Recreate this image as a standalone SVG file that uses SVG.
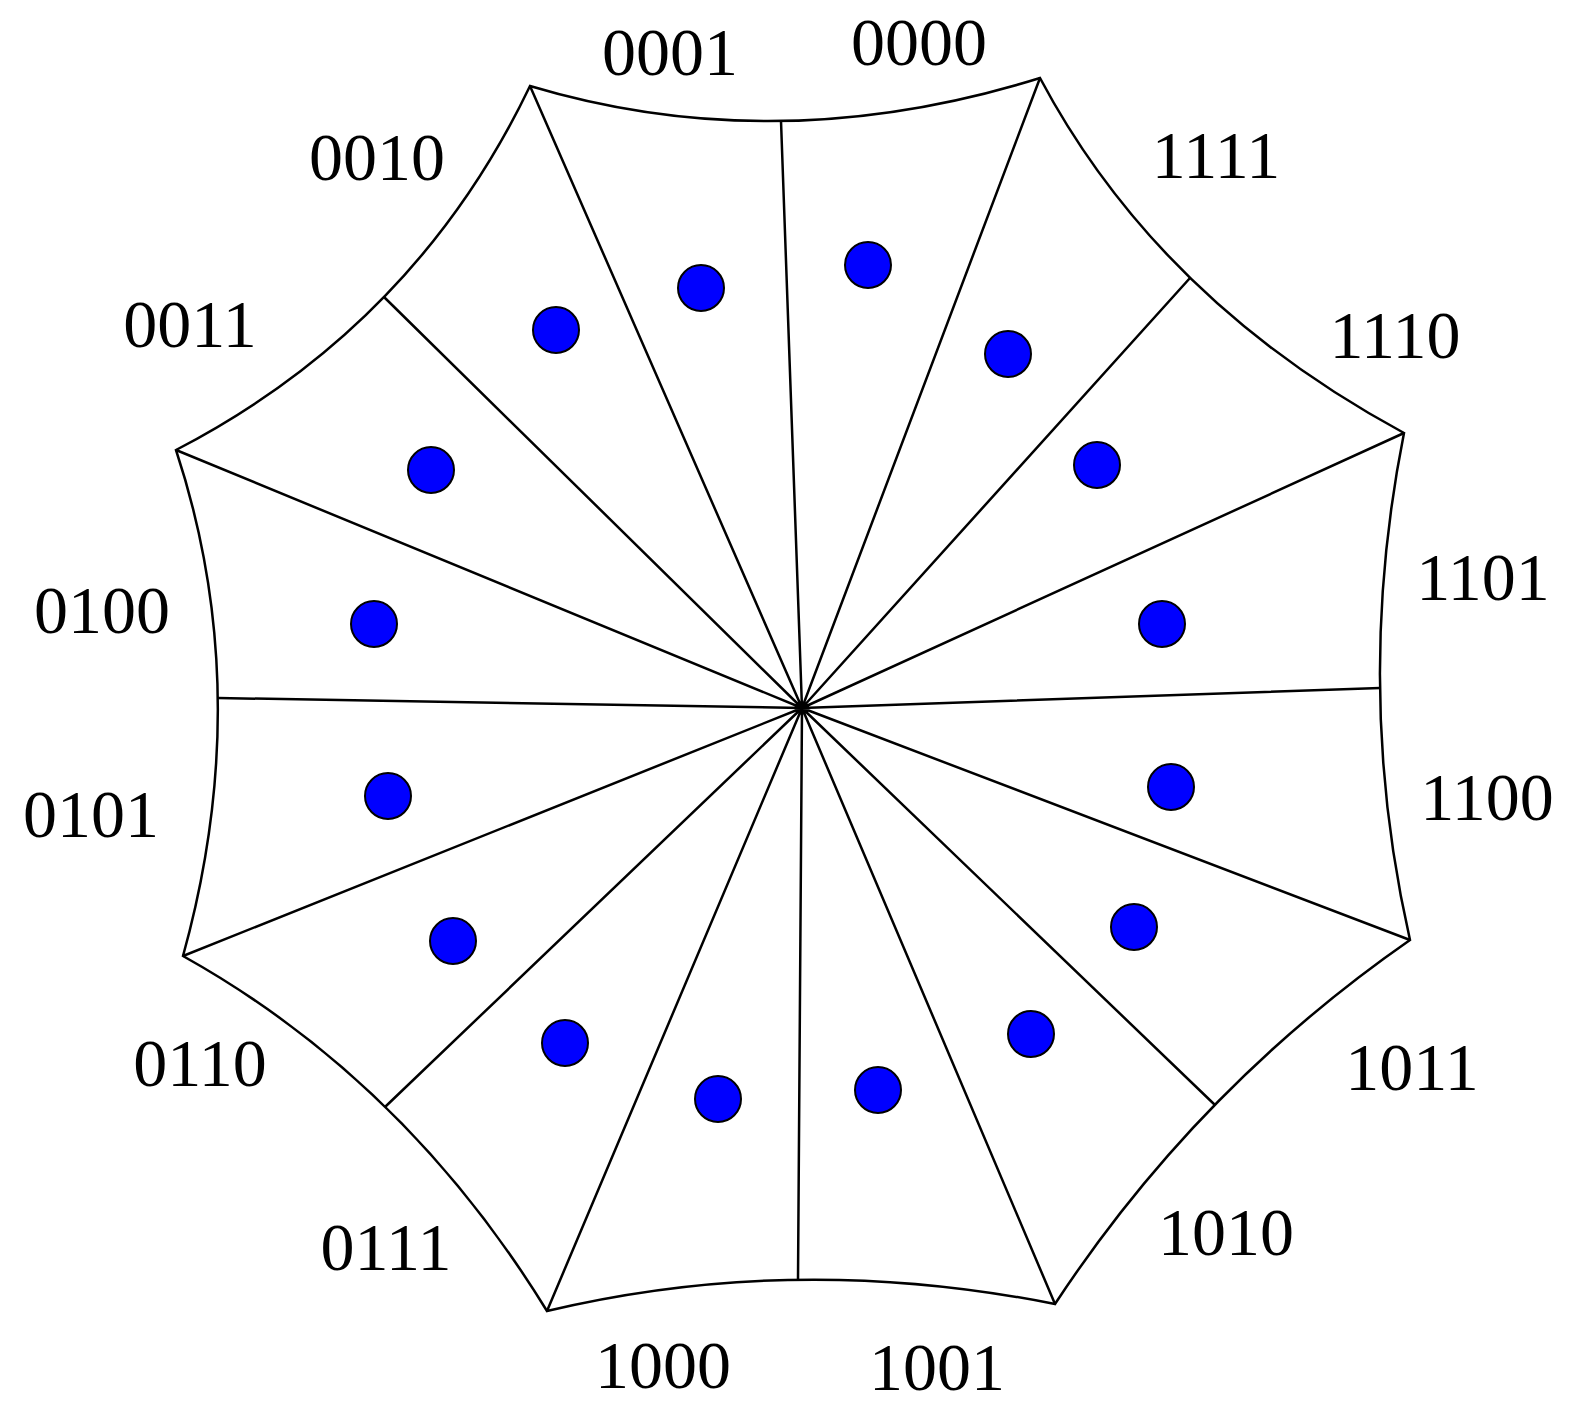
<svg xmlns="http://www.w3.org/2000/svg" width="1573" height="1415" viewBox="0 0 1573 1415">
<style>
.e{fill:none;stroke:#000;stroke-width:2.5}
.d{fill:#0000ff;stroke:#000;stroke-width:2}
.t{font-family:"Liberation Serif",serif;font-size:68px;text-anchor:middle;fill:#000}
</style>
<rect width="1573" height="1415" fill="#fff"/>
<g id="edges">
<path class="e" d="M530,86 Q777,160 1040,78 Q1158,300 1404,433 Q1353,689 1410,940 Q1197,1088 1055,1304 Q795,1252 547,1311 Q405,1080 183,956 Q256,693 176,450 Q415,326 530,86 Z"/>
<path class="e" d="M802,708 L530,86 M802,708 L781,121 M802,708 L1040,78 M802,708 L1190,278 M802,708 L1404,433 M802,708 L1380,688 M802,708 L1410,940 M802,708 L1215,1105 M802,708 L1055,1304 M802,708 L798,1280 M802,708 L547,1311 M802,708 L385,1107 M802,708 L183,956 M802,708 L218,698 M802,708 L176,450 M802,708 L384,297"/>
</g>
<g id="dots">
<circle class="d" cx="868" cy="265" r="23"/><circle class="d" cx="1008" cy="354" r="23"/>
<circle class="d" cx="1097" cy="465" r="23"/><circle class="d" cx="1162" cy="624" r="23"/>
<circle class="d" cx="1171" cy="787" r="23"/><circle class="d" cx="1134" cy="927" r="23"/>
<circle class="d" cx="1031" cy="1034" r="23"/><circle class="d" cx="878" cy="1090" r="23"/>
<circle class="d" cx="718" cy="1099" r="23"/><circle class="d" cx="565" cy="1043" r="23"/>
<circle class="d" cx="453" cy="941" r="23"/><circle class="d" cx="388" cy="796" r="23"/>
<circle class="d" cx="374" cy="624" r="23"/><circle class="d" cx="431" cy="470" r="23"/>
<circle class="d" cx="556" cy="330" r="23"/><circle class="d" cx="701" cy="288" r="23"/>
</g>
<g id="labels">
<text class="t" x="670" y="75">0001</text><text class="t" x="919" y="65">0000</text>
<text class="t" x="1216" y="178">1111</text><text class="t" x="1395" y="358">1110</text>
<text class="t" x="1483" y="600">1101</text><text class="t" x="1487" y="820">1100</text>
<text class="t" x="1412" y="1090">1011</text><text class="t" x="1226" y="1255">1010</text>
<text class="t" x="937" y="1390">1001</text><text class="t" x="663" y="1388">1000</text>
<text class="t" x="386" y="1270">0111</text><text class="t" x="200" y="1086">0110</text>
<text class="t" x="91" y="837">0101</text><text class="t" x="102" y="633">0100</text>
<text class="t" x="190" y="347">0011</text><text class="t" x="377" y="180">0010</text>
</g>
</svg>
